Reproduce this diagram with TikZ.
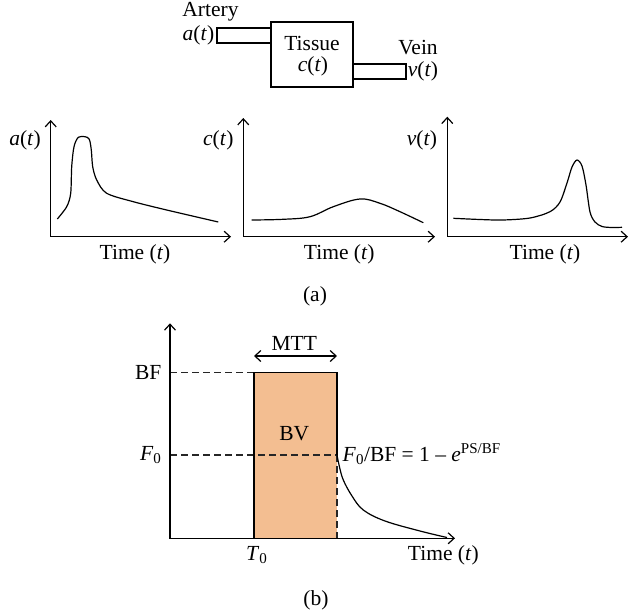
\documentclass[tikz,border=0pt]{standalone}
\usepackage{fontspec}
\setmainfont{Liberation Serif}
\usetikzlibrary{arrows.meta}
\definecolor{bvfill}{RGB}{243,190,145}
\begin{document}
\begin{tikzpicture}[
        x=1pt, y=-1pt,
        >={Straight Barb[length=6pt,width=11pt]},
        lbl/.style={inner sep=0pt, font=\fontsize{21.5}{24}\selectfont},
        tube/.style={rectangle, draw=black, line width=1.2pt, minimum height=15pt, inner sep=0pt},
        organ/.style={rectangle, draw=black, line width=1.2pt, minimum width=82pt, minimum height=65pt, inner sep=0pt},
        axis/.style={<->, line width=1.2pt},
        curve/.style={line width=1.2pt},
        guide/.style={line width=1.3pt, draw=black!85, dash pattern=on 7pt off 4pt}
    ]

    \useasboundingbox (0,0) rectangle (630,613);

    % tissue model
    \node[organ] (tissue) at (312,54.5) {};
    \node[tube, minimum width=54pt] (artery) at (244,35.5) {};
    \node[tube, minimum width=53pt] (vein) at (379.5,71.5) {};
    \node[lbl] (tissuetxt) at (312,43) {Tissue};
    \node[lbl] (ctxt) at (313,66) {\textit{c}(\textit{t})};
    \node[lbl] (arterytxt) at (210.5,12) {Artery};
    \node[lbl, anchor=east] (atxt) at ([xshift=-2pt]artery.west) {\textit{a}(\textit{t})};
    \node[lbl] (veintxt) at (418,48) {Vein};
    \node[lbl, anchor=west] (vtxt) at ([xshift=1pt]vein.east) {\textit{v}(\textit{t})};

    % plot a(t)
    \coordinate (ya) at (50.7,120);
    \coordinate (oa) at (50.7,236.7);
    \coordinate (xa) at (231,236.7);
    \draw[axis] (ya) -- (oa) -- (xa);
    \draw[curve] plot[smooth, tension=0.5] coordinates {(57.3,219) (66.7,206.7) (70.7,193.3) (71.7,166.7) (74,146.7) (78.3,137.3) (85,136.7) (89.3,139.3) (91.3,150) (92.7,166.7) (96.7,180) (106.7,193.3) (133.3,201.7) (166.7,210) (218.3,222)};
    \node[lbl] (la) at (25,140) {\textit{a}(\textit{t})};
    \node[lbl] (ta) at (135,254) {Time (\textit{t})};

    % plot c(t)
    \coordinate (yc) at (243.3,118);
    \coordinate (oc) at (243.3,236.7);
    \coordinate (xc) at (435,236.7);
    \draw[axis] (yc) -- (oc) -- (xc);
    \draw[curve] plot[smooth, tension=0.6] coordinates {(251.7,220) (283.3,219.3) (310,216.7) (333.3,206.7) (360,199) (380,203.3) (400,211.7) (423.3,222.7)};
    \node[lbl] (lc) at (218.3,140) {\textit{c}(\textit{t})};
    \node[lbl] (tc) at (339.3,254) {Time (\textit{t})};

    % plot v(t)
    \coordinate (yv) at (447.3,116.7);
    \coordinate (ov) at (447.3,236.7);
    \coordinate (xv) at (628,236.7);
    \draw[axis] (yv) -- (ov) -- (xv);
    \draw[curve] plot[smooth, tension=0.5] coordinates {(453.3,218.3) (480,219.5) (503,220) (530,218) (550,211.7) (560,202) (567,183) (572,167) (577,160) (582,166) (586,185) (590,212) (595,222) (602,226.5) (612,227.5) (622,227.3)};
    \node[lbl] (lv) at (422,140) {\textit{v}(\textit{t})};
    \node[lbl] (tv) at (545,254) {Time (\textit{t})};

    \node[lbl] (capa) at (315,296) {(a)};

    % plot b
    \coordinate (yb) at (170,323.3);
    \coordinate (ob) at (170,538.3);
    \coordinate (xb) at (455,538.3);
    \coordinate (bfy) at (170,372.3);
    \coordinate (f0y) at (170,455);
    \coordinate (t0) at (254,538.3);
    \coordinate (bfl) at (254,372.3);
    \coordinate (bfr) at (337,372.3);
    \coordinate (f0r) at (337,455);
    \coordinate (mr) at (337,538.3);
    \coordinate (mttl) at (254,356);
    \coordinate (mttr) at (337,356);

    \fill[bvfill] (t0) rectangle (bfr);
    \draw[guide] (bfy) -- (bfl);
    \draw[guide] (f0y) -- (f0r);
    \draw[guide] (f0r) -- (mr);
    \draw[line width=1.2pt] (t0) -- (bfl) -- (bfr) -- (f0r);
    \draw[axis] (yb) -- (ob) -- (xb);
    \draw[<->, line width=1.2pt] (mttl) -- (mttr);
    \draw[curve] plot[smooth, tension=0.6] coordinates {(f0r) (339.5,467) (343.3,480) (352,496) (363.3,510) (385,521) (420,531) (447,537.5)};

    \node[lbl] (mtt) at (294.3,343.3) {MTT};
    \node[lbl] (bv) at (294.3,433.3) {BV};
    \node[lbl] (bf) at (148.3,372.3) {BF};
    \node[lbl] (f0) at (150.7,455) {\textit{F}\textsubscript{0}};
    \node[lbl] (tzero) at (256.7,555) {\textit{T}\textsubscript{0}};
    \node[lbl, anchor=base west] (formula) at (342.5,461.5) {\textit{F}\textsubscript{0}/BF = 1 -- \textit{e}\textsuperscript{PS/BF}};
    \node[lbl] (tb) at (443.3,555) {Time (\textit{t})};
    \node[lbl] (capb) at (316,600) {(b)};

\end{tikzpicture}
\end{document}
